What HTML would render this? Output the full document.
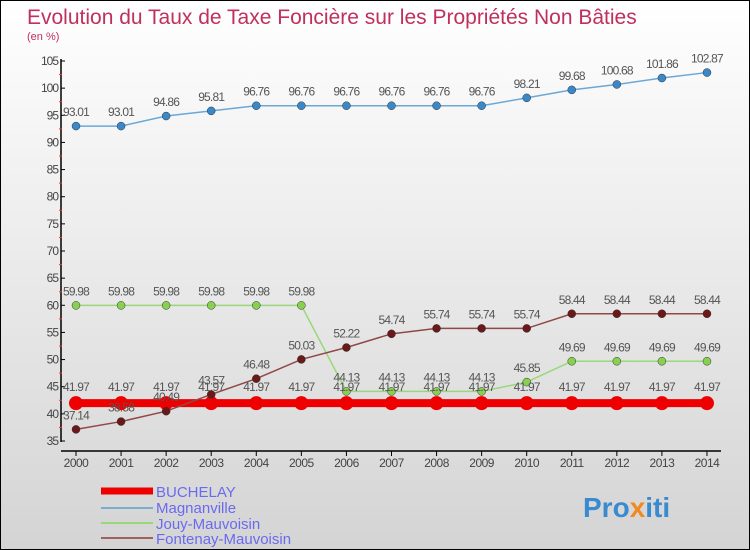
<!DOCTYPE html>
<html><head><meta charset="utf-8"><style>
body{margin:0}
#c{width:748px;height:548px;border:1px solid #000;background:linear-gradient(#ffffff,#d4d4d4);position:relative;overflow:hidden;font-family:"Liberation Sans",sans-serif}
</style></head><body>
<div id="c">
<svg id="s" width="748" height="548" xmlns="http://www.w3.org/2000/svg" style="position:absolute;left:0;top:0">
<text x="26" y="23" font-size="21" fill="#c0305c">Evolution du Taux de Taxe Foncière sur les Propriétés Non Bâties</text>
<text x="26" y="39" font-size="11" fill="#c0305c">(en %)</text>
<g id="axes"></g><g id="series"></g>
<g>
<line x1="100" y1="490" x2="152" y2="490" stroke="#e00" stroke-width="7"/>
<text x="155" y="496" font-size="15" fill="#6a6af0">BUCHELAY</text>
<line x1="100" y1="507" x2="152" y2="507" stroke="#7aaed0" stroke-width="2"/>
<text x="155" y="512" font-size="15" fill="#6a6af0">Magnanville</text>
<line x1="100" y1="522" x2="152" y2="522" stroke="#98d878" stroke-width="2"/>
<text x="155" y="528" font-size="15" fill="#6a6af0">Jouy-Mauvoisin</text>
<line x1="100" y1="537" x2="152" y2="537" stroke="#a06060" stroke-width="2"/>
<text x="155" y="543" font-size="15" fill="#6a6af0">Fontenay-Mauvoisin</text>
</g>
<text x="582" y="516" font-size="28" font-weight="bold" fill="#3a8ad0">Pro<tspan fill="#f08a20">x</tspan>iti</text>
</svg>
</div>
<script>
const years=[2000,2001,2002,2003,2004,2005,2006,2007,2008,2009,2010,2011,2012,2013,2014];
const yTicks=[35,40,45,50,55,60,65,70,75,80,85,90,95,100,105];
const buchelay=[41.97,41.97,41.97,41.97,41.97,41.97,41.97,41.97,41.97,41.97,41.97,41.97,41.97,41.97,41.97];
const magnanville=[93.01,93.01,94.86,95.81,96.76,96.76,96.76,96.76,96.76,96.76,98.21,99.68,100.68,101.86,102.87];
const jouy=[59.98,59.98,59.98,59.98,59.98,59.98,44.13,44.13,44.13,44.13,45.85,49.69,49.69,49.69,49.69];
const fontenay=[37.14,38.58,40.49,43.57,46.48,50.03,52.22,54.74,55.74,55.74,55.74,58.44,58.44,58.44,58.44];
const NS="http://www.w3.org/2000/svg";
const xS=i=>75+i*45.07;
const yS=v=>440-(v-35)*(380/70);
function mk(t,a,p){const e=document.createElementNS(NS,t);for(const k in a)e.setAttribute(k,a[k]);p.appendChild(e);return e;}
const ax=document.getElementById('axes');
const yax=mk('line',{x1:60,y1:58,x2:60,y2:441,stroke:'#000','stroke-width':1.5},ax);


yTicks.forEach(v=>{
 mk('line',{x1:60,y1:yS(v),x2:64,y2:yS(v),stroke:'#000'},ax);
 if(v<105) mk('line',{x1:58,y1:yS(v+2.5),x2:61,y2:yS(v+2.5),stroke:'#f33'},ax);
 const t=mk('text',{x:57,y:yS(v)+4,'font-size':12,fill:'#444','text-anchor':'end','letter-spacing':'-1'},ax);
 
 
 t.textContent=v;
});
const xax=mk('line',{x1:60,y1:450,x2:720,y2:450,stroke:'#000','stroke-width':1.5},ax);


years.forEach((y,i)=>{
 mk('line',{x1:xS(i),y1:450,x2:xS(i),y2:455,stroke:'#000'},ax);
 const t=mk('text',{x:xS(i),y:466,'font-size':12,fill:'#444','text-anchor':'middle','letter-spacing':'-0.5'},ax);
 
 
 t.textContent=y;
});
const sg=document.getElementById('series');
function draw(vals,name,lc,lw,pc,pr,dy){
 const g=mk('g',{},sg);
 
 
 mk('polyline',{points:vals.map((v,i)=>xS(i)+','+yS(v)).join(' '),fill:'none',stroke:lc,'stroke-width':lw},g);
 vals.forEach((v,i)=>{
  const c=mk('circle',{cx:xS(i),cy:yS(v),r:pr,fill:pc,stroke:pr>5?'none':'#333','stroke-width':0.5},g);
  
  
  const t=mk('text',{x:xS(i),y:yS(v)+dy,'font-size':12,fill:'#555','text-anchor':'middle','letter-spacing':'-0.8'},g);
  
  
  t.textContent=v.toFixed(2);
 });
}
draw(magnanville,'magnanville','#6aa8d8',1.5,'#3a88c8',4,-10);
draw(jouy,'jouy-mauvoisin','#98d878',1.5,'#88d050',4,-10);
draw(buchelay,'buchelay','#ee0000',8,'#ee0000',7,-12);
draw(fontenay,'fontenay-mauvoisin','#904848',1.5,'#6a1818',4,-10);
</script>
</body></html>
